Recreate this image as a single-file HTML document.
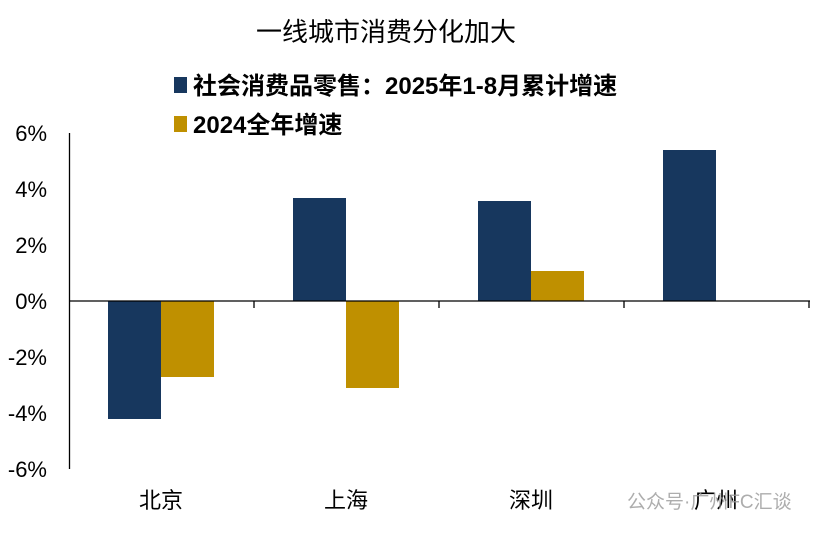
<!DOCTYPE html>
<html><head><meta charset="utf-8"><style>
body{margin:0;background:#fff;}
svg text{font-family:"Liberation Sans","Noto Sans CJK SC",sans-serif;}
</style></head><body>
<svg width="830" height="540" viewBox="0 0 830 540">
<text x="386" y="41" font-size="26" text-anchor="middle" fill="#000">一线城市消费分化加大</text>
<rect x="174" y="77" width="13" height="16" fill="#17375e"/>
<text x="193" y="94" font-size="24" font-weight="bold" fill="#000">社会消费品零售：2025年1-8月累计增速</text>
<rect x="174" y="116" width="13" height="16" fill="#bf9000"/>
<text x="193" y="133" font-size="24" font-weight="bold" fill="#000">2024全年增速</text>
<g font-size="22" text-anchor="end" fill="#000">
<text x="47" y="141">6%</text><text x="47" y="197">4%</text><text x="47" y="253">2%</text>
<text x="47" y="309">0%</text><text x="47" y="365">-2%</text><text x="47" y="421">-4%</text><text x="47" y="477">-6%</text>
</g>
<g fill="#17375e">
<rect x="108" y="301" width="53" height="118"/>
<rect x="293" y="198" width="53" height="103"/>
<rect x="478" y="201" width="53" height="100"/>
<rect x="663" y="150" width="53" height="151"/>
</g>
<g fill="#bf9000">
<rect x="161" y="301" width="53" height="76"/>
<rect x="346" y="301" width="53" height="87"/>
<rect x="531" y="271" width="53" height="30"/>
</g>
<line x1="69.5" y1="133" x2="69.5" y2="469" stroke="#000" stroke-width="1.3"/>
<line x1="69" y1="301" x2="810" y2="301" stroke="#000" stroke-width="1.3"/>
<g stroke="#000" stroke-width="1.3">
<line x1="254" y1="301" x2="254" y2="308"/><line x1="439" y1="301" x2="439" y2="308"/>
<line x1="624" y1="301" x2="624" y2="308"/><line x1="809" y1="301" x2="809" y2="308"/>
</g>
<g font-size="22" text-anchor="middle" fill="#000">
<text x="161" y="508">北京</text><text x="346" y="508">上海</text>
<text x="531" y="508">深圳</text><text x="716" y="508">广州</text>
</g>
<text x="627" y="508" font-size="19" fill="#999" opacity="0.8">公众号·广州FC汇谈</text>
</svg>
</body></html>
